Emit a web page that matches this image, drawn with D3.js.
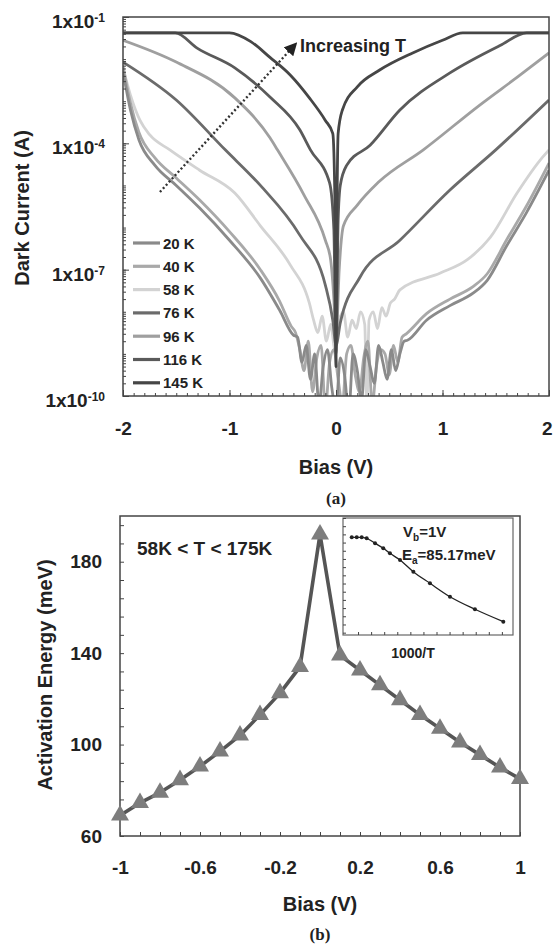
<!DOCTYPE html>
<meta charset="utf-8">
<style>

body {
  margin: 0;
  background: #fff;
  font-family: Arial, "Liberation Sans", Helvetica, sans-serif;
}

text {
  font-weight: bold;
  fill: #222;
}

.frame {
  fill: none;
  stroke: #444;
  stroke-width: 1.5;
}

.curve {
  fill: none;
  stroke-width: 2.8;
  stroke-linejoin: round;
}

</style>
<body>
<script src="https://d3js.org/d3.v7.min.js"></script>
<script>

// ---------- data, panel (a): dark current (A) vs bias (V) ----------
var temps = ["20 K", "40 K", "58 K", "76 K", "96 K", "116 K", "145 K"];

var iv20 = [[-2,5e-3],[-1.93,6.2e-4],[-1.85,1.2e-4],[-1.7,3e-5],[-1.5,1e-5],[-1.28,2.9e-6],[-1.0,5e-7],
  [-0.71,6.3e-8],[-0.53,1.1e-8],[-0.4,2.8e-9],
  [-0.36,2.5e-9],[-0.32,6.3e-10],[-0.28,1.6e-9],[-0.24,2.5e-10],[-0.2,1e-9],[-0.16,6.3e-11],[-0.12,5e-10],
  [-0.08,1.26e-9],[-0.04,1.6e-10],[0,5e-11],[0.04,8e-10],[0.08,3.2e-10],[0.12,4e-11],[0.16,1e-9],[0.2,4e-10],
  [0.24,8e-11],[0.28,1.26e-9],[0.32,5e-10],[0.36,2e-10],[0.4,1.6e-9],[0.44,6.3e-10],[0.48,2.5e-10],[0.52,1.26e-9],
  [0.56,4e-10],[0.6,1e-9],[0.64,2e-9],
  [0.67,2.1e-9],[0.85,6.3e-9],[1.07,1.4e-8],[1.29,2.8e-8],[1.42,5.6e-8],[1.6,3.6e-7],[1.79,2.3e-6],[2,2.3e-5]];

var iv40 = [[-2,7e-3],[-1.93,9e-4],[-1.85,1.8e-4],[-1.7,4.5e-5],[-1.5,1.5e-5],[-1.28,4.5e-6],[-1.0,8e-7],
  [-0.71,1e-7],[-0.53,1.8e-8],[-0.42,4.5e-9],
  [-0.38,3.2e-9],[-0.34,1.26e-9],[-0.3,4e-10],[-0.26,2e-9],[-0.22,1.26e-10],[-0.18,8e-10],[-0.14,1.6e-9],
  [-0.1,5e-11],[-0.06,6.3e-10],[-0.02,1.26e-9],[0.02,2.5e-10],[0.06,6.3e-11],[0.1,1e-9],[0.14,1.6e-9],
  [0.18,3.2e-10],[0.22,1.26e-10],[0.26,8e-10],[0.3,2e-9],[0.34,6.3e-11],[0.38,5e-10],[0.42,1.26e-9],
  [0.46,1e-9],[0.5,3.2e-10],[0.54,1.6e-9],[0.58,6.3e-10],[0.62,2.5e-9],
  [0.66,3e-9],[0.85,9e-9],[1.07,2e-8],[1.29,4e-8],[1.42,8e-8],[1.6,5e-7],[1.79,3.3e-6],[2,3.4e-5]];

var iv58 = [[-2,6.2e-3],[-1.93,1.4e-3],[-1.84,3.5e-4],[-1.75,1.6e-4],[-1.56,7e-5],[-1.28,2.3e-5],
  [-0.95,6.6e-6],[-0.71,1.1e-6],[-0.43,1.3e-7],[-0.25,1.6e-8],
  [-0.21,6.3e-9],[-0.17,3.2e-9],[-0.13,7.9e-9],[-0.09,2e-9],[-0.05,5e-9],[-0.01,1.26e-9],[0.03,6.3e-9],
  [0.07,1e-8],[0.11,2.5e-9],[0.15,6.3e-9],[0.19,4e-9],[0.23,1e-8],[0.27,5e-9],[0.29,5e-11],[0.31,6.3e-9],
  [0.35,1e-8],[0.39,4e-9],[0.43,1.26e-8],[0.47,7.9e-9],[0.51,1.6e-8],[0.55,2e-8],
  [0.6,3.3e-8],[0.98,8.3e-8],[1.23,1.7e-7],[1.45,5.9e-7],[1.7,6.6e-6],[1.94,4.7e-5],[2,7e-5]];

var iv76 = [[-2,8.5e-3],[-1.5,1.07e-3],[-1.04,7e-5],[-0.71,1e-5],[-0.34,6.6e-7],[-0.1,4.3e-8],
  [-0.03,6.3e-9],[0,1.6e-9],[0.04,5.4e-9],[0.225,6.6e-8],[0.6,5e-7],[1.07,7.8e-6],[1.5,7e-5],[2,1.07e-3]];

var iv96 = [[-2,2.8e-2],[-1.5,8.5e-3],[-0.95,1.2e-3],[-0.62,1.35e-4],[-0.55,7e-5],[-0.3,5.9e-6],
  [-0.1,5e-7],[-0.05,1.7e-7],[-0.02,2e-8],[0,2e-9],[0.03,1e-7],[0.07,1.1e-6],[0.2,3.4e-6],[0.4,1.2e-5],
  [0.82,7e-5],[1.35,8.1e-4],[1.73,4.2e-3],[2,1.4e-2]];

var iv116 = [[-2,4.2e-2],[-1.51,4.2e-2],[-1.3,1.8e-2],[-0.95,6.2e-3],[-0.62,1.26e-3],[-0.34,2.1e-4],
  [-0.24,7e-5],[-0.06,1.15e-5],[-0.02,9e-7],[0,1e-9],[0.02,1.5e-6],[0.04,1e-5],[0.1,3e-5],[0.32,9e-5],
  [0.6,6.2e-4],[1.07,4.7e-3],[1.54,2.1e-2],[1.79,4.2e-2],[2,4.2e-2]];

var iv145 = [[-2,4.2e-2],[-1.0,4.2e-2],[-0.8,2.6e-2],[-0.62,1.1e-2],[-0.43,4.2e-3],[-0.25,1.2e-3],
  [-0.1,3.5e-4],[-0.03,1.7e-4],[-0.01,4e-6],[0,5e-10],[0.01,4e-6],[0.02,1.7e-4],[0.06,6.2e-4],
  [0.2,2.2e-3],[0.41,5.5e-3],[0.72,1.4e-2],[1.0,2.8e-2],[1.19,4.2e-2],[2,4.2e-2]];

var seriesA = [iv20, iv40, iv58, iv76, iv96, iv116, iv145];
var xTicksA = [-2, -1, 0, 1, 2];
var yTicksA = [1e-1, 1e-4, 1e-7, 1e-10];

// "Increasing T" arrow, in data units (bias, current)
var arrowFrom = [-1.653, 7e-6],
    arrowTo = [-0.43, 1.65e-2];

// ---------- data, panel (b): activation energy vs bias ----------
var biasB = [-1,-0.9,-0.8,-0.7,-0.6,-0.5,-0.4,-0.3,-0.2,-0.1,0,0.1,0.2,0.3,0.4,0.5,0.6,0.7,0.8,0.9,1];
var eaB = [69,74.5,79,84.5,90.5,97,104,113,122.5,134,192,139,132.5,126,119.5,113,107,101,95.5,90,85];
var xTicksB = [-1, -0.6, -0.2, 0.2, 0.6, 1];
var yTicksB = [60, 100, 140, 180];

// inset: Arrhenius plot at Vb = 1 V
var invT = [5.52,5.90,6.28,6.66,7.30,7.93,8.44,9.21,10.23,11.50,13.03,14.94,17.11];
var lnI = [-1.65,-1.65,-1.65,-1.74,-2.16,-2.59,-3.02,-3.59,-4.59,-5.58,-6.73,-7.80,-8.86];

// ---------- styles ----------
var tempColors = ["#8a8a8a", "#a9a9a9", "#d3d3d3", "#6b6b6b", "#9f9f9f", "#5a5a5a", "#464646"];
var drawOrder = [2, 4, 1, 0, 3, 5, 6];
var FONT = "Arial, 'Liberation Sans', Helvetica, sans-serif";

var svg = d3.select("body").append("svg")
    .attr("width", 553)
    .attr("height", 946);

var defs = svg.append("defs");

function styleAxis(g, size) {
  g.attr("font-family", FONT).attr("font-size", size).attr("color", "#444");
  g.select(".domain").remove();
  g.selectAll(".tick text").attr("fill", "#222");
}

// ================= panel (a) =================
var x = d3.scaleLinear().domain([-2, 2]).range([123, 549]);
var y = d3.scaleLog().domain([1e-10, 1e-1]).range([396, 17]);

defs.append("clipPath").attr("id", "clipA").append("rect")
    .attr("x", x.range()[0]).attr("y", y.range()[1])
    .attr("width", x.range()[1] - x.range()[0])
    .attr("height", y.range()[0] - y.range()[1]);

var line = d3.line()
    .x(function(d) { return x(d[0]); })
    .y(function(d) { return y(d[1]); })
    .curve(d3.curveMonotoneX);

var curves = svg.append("g").attr("clip-path", "url(#clipA)");
drawOrder.forEach(function(i) {
  curves.append("path")
      .attr("class", "curve")
      .attr("stroke", tempColors[i])
      .attr("d", line(seriesA[i]));
});

// minor ticks
var minorX = d3.range(-20, 21).map(function(d) { return d / 10; });
svg.append("g")
    .attr("transform", "translate(0," + y.range()[0] + ")")
    .call(d3.axisBottom(x).tickValues(minorX).tickSizeInner(-3).tickSizeOuter(0).tickFormat(""))
    .call(styleAxis, 10);

svg.append("g")
    .attr("transform", "translate(0," + y.range()[0] + ")")
    .call(d3.axisBottom(x).tickValues(xTicksA).tickSizeInner(-6).tickSizeOuter(0)
      .tickPadding(26).tickFormat(function(d) { return String(d); }))
    .call(styleAxis, 19)
  .selectAll(".tick text")
    .filter(function(d) { return d === 2; })
    .attr("text-anchor", "end")
    .attr("dx", 3);

var minorY = [];
for (var e = -10; e < -1; e++) for (var m = 1; m < 10; m++) minorY.push(m * Math.pow(10, e));
svg.append("g")
    .attr("transform", "translate(" + x.range()[0] + ",0)")
    .call(d3.axisLeft(y).tickValues(minorY).tickSizeInner(-3).tickSizeOuter(0).tickFormat(""))
    .call(styleAxis, 10);

svg.append("g")
    .attr("transform", "translate(" + x.range()[0] + ",0)")
    .call(d3.axisLeft(y).tickValues(yTicksA).tickSizeInner(-6).tickSizeOuter(0).tickPadding(18).tickFormat(""))
    .call(styleAxis, 19)
  .selectAll(".tick text")
    .attr("dy", "0.55em")
    .each(function(d) {
      var t = d3.select(this);
      t.append("tspan").text("1x10");
      t.append("tspan").attr("dy", "-0.5em").attr("font-size", 12)
          .text(String(Math.round(Math.log10(d))));
    });

svg.append("rect").attr("class", "frame")
    .attr("x", x.range()[0]).attr("y", y.range()[1])
    .attr("width", x.range()[1] - x.range()[0])
    .attr("height", y.range()[0] - y.range()[1]);

// legend
var legend = svg.append("g").attr("font-size", 15);
temps.forEach(function(t, i) {
  var ly = 243 + i * 23.3;
  legend.append("line")
      .attr("x1", 133).attr("x2", 160).attr("y1", ly).attr("y2", ly)
      .attr("stroke", tempColors[i]).attr("stroke-width", 3.2);
  legend.append("text")
      .attr("x", 163).attr("y", ly + 5.5)
      .attr("fill", "#333")
      .text(t);
});

// increasing T arrow
defs.append("marker")
    .attr("id", "arrowHead")
    .attr("viewBox", "0 0 10 10")
    .attr("refX", 2).attr("refY", 5)
    .attr("markerUnits", "userSpaceOnUse")
    .attr("markerWidth", 13).attr("markerHeight", 13)
    .attr("orient", "auto")
  .append("path")
    .attr("d", "M0,0L10,5L0,10z")
    .attr("fill", "#222");

svg.append("line")
    .attr("x1", x(arrowFrom[0])).attr("y1", y(arrowFrom[1]))
    .attr("x2", x(arrowTo[0])).attr("y2", y(arrowTo[1]))
    .attr("stroke", "#333")
    .attr("stroke-width", 2.4)
    .attr("stroke-dasharray", "2,2.4")
    .attr("marker-end", "url(#arrowHead)");

svg.append("text")
    .attr("x", 300).attr("y", 52)
    .attr("font-size", 18)
    .attr("fill", "#333")
    .text("Increasing T");

svg.append("text")
    .attr("transform", "translate(29,208) rotate(-90)")
    .attr("text-anchor", "middle")
    .attr("font-size", 20)
    .text("Dark Current (A)");

svg.append("text")
    .attr("x", x(0)).attr("y", 474)
    .attr("text-anchor", "middle")
    .attr("font-size", 20)
    .text("Bias (V)");

svg.append("text")
    .attr("x", x(0)).attr("y", 504)
    .attr("text-anchor", "middle")
    .attr("font-size", 17)
    .attr("font-family", "'Liberation Serif', 'DejaVu Serif', serif")
    .text("(a)");

// ================= panel (b) =================
var xb = d3.scaleLinear().domain([-1, 1]).range([120, 520]);
var yb = d3.scaleLinear().domain([60, 200]).range([836, 516]);

var minorXB = d3.range(-10, 11).map(function(d) { return d / 10; });
svg.append("g")
    .attr("transform", "translate(0," + yb.range()[0] + ")")
    .call(d3.axisBottom(xb).tickValues(minorXB).tickSizeInner(-4).tickSizeOuter(0).tickFormat(""))
    .call(styleAxis, 10);

svg.append("g")
    .attr("transform", "translate(0," + yb.range()[0] + ")")
    .call(d3.axisBottom(xb).tickValues(xTicksB).tickSizeInner(0).tickSizeOuter(0)
      .tickPadding(25).tickFormat(function(d) { return String(d); }))
    .call(styleAxis, 19);

svg.append("g")
    .attr("transform", "translate(" + xb.range()[0] + ",0)")
    .call(d3.axisLeft(yb).tickValues(d3.range(60, 201, 8)).tickSizeInner(-4).tickSizeOuter(0)
      .tickPadding(18).tickFormat(function(d) { return yTicksB.indexOf(d) >= 0 ? d : ""; }))
    .call(styleAxis, 19);

svg.append("rect").attr("class", "frame")
    .attr("x", xb.range()[0]).attr("y", yb.range()[1])
    .attr("width", xb.range()[1] - xb.range()[0])
    .attr("height", yb.range()[0] - yb.range()[1]);

var eaPts = biasB.map(function(b, i) { return [b, eaB[i]]; });

svg.append("path")
    .attr("fill", "none")
    .attr("stroke", "#555")
    .attr("stroke-width", 3.6)
    .attr("stroke-linejoin", "round")
    .attr("d", d3.line()
      .x(function(d) { return xb(d[0]); })
      .y(function(d) { return yb(d[1]); })(eaPts));

svg.append("g").selectAll("path")
    .data(eaPts)
  .enter().append("path")
    .attr("transform", function(d) { return "translate(" + xb(d[0]) + "," + yb(d[1]) + ")"; })
    .attr("d", d3.symbol(d3.symbolTriangle).size(140))
    .attr("fill", "#7d7d7d");

svg.append("text")
    .attr("x", 137).attr("y", 555)
    .attr("font-size", 19)
    .text("58K < T < 175K");

// inset
var xi = d3.scaleLinear().domain([4.85, 17.85]).range([343, 513]);
var yi = d3.scaleLinear().domain([-10, 0]).range([635, 518]);

svg.append("rect")
    .attr("x", 343).attr("y", 518).attr("width", 170).attr("height", 117)
    .attr("fill", "#fff").attr("stroke", "#666").attr("stroke-width", 1.2);

svg.append("g")
    .attr("transform", "translate(0," + yi.range()[0] + ")")
    .call(d3.axisBottom(xi).tickValues(d3.range(6, 18)).tickSizeInner(-3).tickSizeOuter(0).tickFormat(""))
    .call(styleAxis, 10);

svg.append("g")
    .attr("transform", "translate(" + xi.range()[0] + ",0)")
    .call(d3.axisLeft(yi).tickValues(d3.range(-9.8, 0, 0.7)).tickSizeInner(-3).tickSizeOuter(0).tickFormat(""))
    .call(styleAxis, 10);

var insetPts = invT.map(function(v, i) { return [v, lnI[i]]; });

svg.append("path")
    .attr("fill", "none")
    .attr("stroke", "#222")
    .attr("stroke-width", 1.3)
    .attr("d", d3.line()
      .x(function(d) { return xi(d[0]); })
      .y(function(d) { return yi(d[1]); })
      .curve(d3.curveMonotoneX)(insetPts));

svg.append("g").selectAll("circle")
    .data(insetPts)
  .enter().append("circle")
    .attr("cx", function(d) { return xi(d[0]); })
    .attr("cy", function(d) { return yi(d[1]); })
    .attr("r", 2)
    .attr("fill", "#222");

var vb = svg.append("text").attr("x", 403).attr("y", 537).attr("font-size", 15);
vb.append("tspan").text("V");
vb.append("tspan").attr("font-size", 10).attr("dy", 4).text("b");
vb.append("tspan").attr("dy", -4).text("=1V");

var ea = svg.append("text").attr("x", 402).attr("y", 560).attr("font-size", 15);
ea.append("tspan").text("E");
ea.append("tspan").attr("font-size", 10).attr("dy", 4).text("a");
ea.append("tspan").attr("dy", -4).text("=85.17meV");

svg.append("text")
    .attr("x", 413).attr("y", 658)
    .attr("text-anchor", "middle")
    .attr("font-size", 14)
    .text("1000/T");

svg.append("text")
    .attr("transform", "translate(52,675) rotate(-90)")
    .attr("text-anchor", "middle")
    .attr("font-size", 20)
    .text("Activation Energy (meV)");

svg.append("text")
    .attr("x", xb(0)).attr("y", 911)
    .attr("text-anchor", "middle")
    .attr("font-size", 20)
    .text("Bias (V)");

svg.append("text")
    .attr("x", xb(0)).attr("y", 940)
    .attr("text-anchor", "middle")
    .attr("font-size", 17)
    .attr("font-family", "'Liberation Serif', 'DejaVu Serif', serif")
    .text("(b)");

</script>
